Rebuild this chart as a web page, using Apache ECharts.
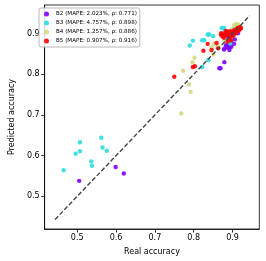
<!DOCTYPE html>
<html><head><meta charset="utf-8">
<script src="https://cdn.jsdelivr.net/npm/echarts@6/dist/echarts.min.js"></script>
<style>html,body{margin:0;padding:0;background:#fff}#c{width:266px;height:261px}</style>
</head><body><div id="c"></div>
<script>
const seriesNames = ['B2 (MAPE: 2.023%, ρ: 0.771)','B3 (MAPE: 4.757%, ρ: 0.898)','B4 (MAPE: 1.257%, ρ: 0.886)','B5 (MAPE: 0.907%, ρ: 0.916)'];
const seriesColors = ['#8000ff','#2adddd','#d4d880','#ff0000'];
const b2Real = [0.505,0.599,0.620,0.866,0.869,0.879,0.878,0.884,0.891,0.897,0.904,0.892,0.914,0.906,0.896,0.909,0.900,0.887,0.883,0.888,0.880,0.893];
const b2Pred = [0.538,0.572,0.556,0.815,0.815,0.830,0.861,0.868,0.870,0.868,0.875,0.860,0.901,0.886,0.880,0.911,0.905,0.893,0.872,0.866,0.864,0.867];
const b3Real = [0.465,0.496,0.507,0.507,0.536,0.538,0.562,0.565,0.576,0.790,0.798,0.822,0.827,0.822,0.836,0.840,0.850,0.838,0.872,0.878,0.887,0.896,0.904,0.884,0.894,0.901,0.880];
const b3Pred = [0.564,0.605,0.633,0.611,0.586,0.575,0.644,0.620,0.612,0.871,0.883,0.884,0.884,0.818,0.898,0.898,0.894,0.835,0.914,0.914,0.901,0.891,0.897,0.884,0.876,0.911,0.906];
const b4Real = [0.768,0.792,0.788,0.773,0.797,0.802,0.846,0.852,0.851,0.904,0.914,0.920,0.909,0.898,0.862,0.880,0.910];
const b4Pred = [0.704,0.757,0.775,0.809,0.830,0.841,0.866,0.875,0.849,0.921,0.923,0.919,0.916,0.910,0.868,0.884,0.924];
const b5Real = [0.750,0.798,0.803,0.825,0.836,0.859,0.846,0.863,0.871,0.875,0.881,0.887,0.896,0.904,0.912,0.919,0.916,0.908,0.900,0.892,0.884,0.896,0.887,0.878,0.910,0.920,0.874,0.879,0.885,0.891,0.899,0.905,0.913,0.917,0.902,0.894,0.870,0.883,0.922,0.907];
const b5Pred = [0.794,0.818,0.820,0.858,0.875,0.877,0.860,0.864,0.901,0.897,0.902,0.905,0.901,0.907,0.911,0.916,0.907,0.901,0.894,0.889,0.897,0.884,0.880,0.890,0.905,0.912,0.893,0.896,0.900,0.896,0.904,0.909,0.914,0.910,0.897,0.906,0.898,0.907,0.914,0.903];
const diagLine = [0.443, 0.944];
const tickValues = [0.5,0.6,0.7,0.8,0.9];
const xRange = [0.416, 0.969];
const yRange = [0.4196, 0.9706];

const reals = [b2Real,b3Real,b4Real,b5Real];
const preds = [b2Pred,b3Pred,b4Pred,b5Pred];
const font = 'DejaVu Sans';
const series = seriesNames.map((n,i)=>({
  name:n, type:'scatter', symbolSize:4.4,
  itemStyle:{color:seriesColors[i], opacity:0.9},
  data: reals[i].map((v,j)=>[v,preds[i][j]]), z:2+i
}));
series.push({
  type:'line', data: diagLine.map(v=>[v,v]), symbol:'none', silent:true, z:10,
  lineStyle:{color:'#444', width:1.4, type:[4.5,2.2]}
});
const axisCommon = {
  type:'value', splitLine:{show:false},
  axisLine:{show:true,onZero:false,lineStyle:{color:'#000',width:0.8}},
  axisTick:{show:true,inside:false,length:3.5,customValues:tickValues,lineStyle:{color:'#000',width:0.8}},
  axisLabel:{customValues:tickValues,fontFamily:font,fontSize:8,color:'#000',margin:5,formatter:v=>v.toFixed(1)},
  nameTextStyle:{fontFamily:font,fontSize:8,color:'#000'}
};
const chart = echarts.init(document.getElementById('c'),null,{renderer:'canvas'});
chart.setOption({
  animation:false,
  grid:{left:36,top:5,width:223.3,height:224,show:true,borderColor:'#000',borderWidth:0.8,backgroundColor:'#fff'},
  xAxis:Object.assign({},axisCommon,{min:xRange[0],max:xRange[1],name:'Real accuracy',nameLocation:'middle',nameGap:19}),
  yAxis:Object.assign({},axisCommon,{min:yRange[0],max:yRange[1],name:'Predicted accuracy',nameLocation:'middle',nameGap:25}),
  legend:{orient:'vertical',left:39,top:8,itemWidth:5,itemHeight:5,itemGap:3,icon:'circle',
    backgroundColor:'rgba(255,255,255,0.85)',borderColor:'#b8b8b8',borderWidth:1,borderRadius:2,padding:[3,3,3,5],
    textStyle:{fontFamily:font,fontSize:5.6,color:'#000',padding:[0,0,0,2]},data:seriesNames},
  series:series
});
</script></body></html>
